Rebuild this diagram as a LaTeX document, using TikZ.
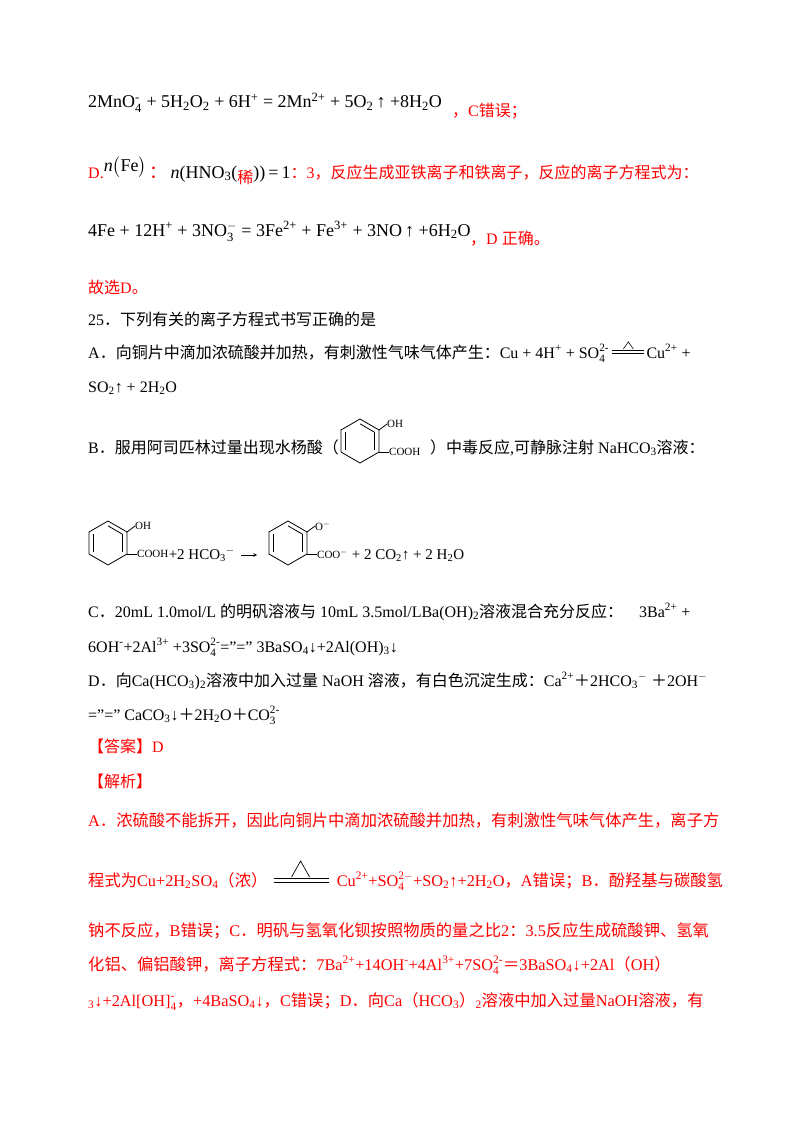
\documentclass[tikz,border=0pt]{standalone}
\usepackage{amsmath}
\usepackage{fontspec}
\setmainfont{Liberation Serif}
\newfontfamily\zhf{Noto Sans CJK SC}
\newfontfamily\zhr{Noto Sans CJK SC}
\newcommand\zh[1]{{\zhf #1}}
\newcommand\zr[1]{{\zhr #1}}
\newcommand\sbp[2]{$\null_{\text{#1}}^{\text{#2}}$}
\newcommand\sd[1]{\textsubscript{#1}}
\newcommand\su[1]{\textsuperscript{#1}}
\tikzset{
  blk/.style={anchor=base west,inner sep=0pt,font=\fontsize{16}{16}\selectfont},
  rdt/.style={blk,text=red},
  rdb/.style={anchor=base west,inner sep=0pt,text=red,font=\fontsize{16.3}{18}\selectfont},
  eqn/.style={anchor=base west,inner sep=0pt,font=\fontsize{18}{18}\selectfont},
  bond/.style={line width=0.8pt}
}
\newcommand\ring[3]{% center x, y, r
  \draw[bond] (#1,#2)+(90:#3) -- +(30:#3) -- +(-30:#3) -- +(-90:#3) -- +(-150:#3) -- +(150:#3) -- cycle;
  \draw[bond] (#1,#2)+(150:0.78*#3) -- +(-150:0.78*#3);
  \draw[bond] (#1,#2)+(30:0.78*#3) -- +(-30:0.78*#3);
  \draw[bond] (#1,#2)+(-90:0.78*#3) -- +(-30:0.78*#3);
}
\begin{document}
\begin{tikzpicture}[x=1pt,y=-1pt]
\useasboundingbox[fill=white] (0,0) rectangle (800,1129);
% line 1
\node[eqn] (e1) at (88,108) {2MnO\sbp{4}{-} + 5H\sd{2}O\sd{2} + 6H\su{+} = 2Mn\su{2+} + 5O\sd{2}\,↑ +8H\sd{2}O};
\node[rdt] (e1r) at (452,117) {\zh{，}C\zh{错误；}};
% line 2
\node[eqn] (d1) at (88,178) {{\color{red}\fontsize{16}{16}\selectfont D.}\raisebox{7pt}{\textit{n}\big(Fe\big)}\,{\color{red}\zh{：}}\,\textit{n}(HNO\sd{3}(\raisebox{-5pt}{\color{red}\fontsize{16}{16}\selectfont\zh{稀}}))\,=\,1{\color{red}\fontsize{16}{16}\selectfont\zh{：}3\zh{，反应生成亚铁离子和铁离子，反应的离子方程式为：}}};
% line 3
\node[eqn] (e3) at (88,236) {4Fe + 12H\su{+} + 3NO\sbp{3}{$-$} = 3Fe\su{2+} + Fe\su{3+} + 3NO\,↑ +6H\sd{2}O};
\node[rdt] (e3r) at (470,244) {\zh{，}D \zh{正确。}};
\node[rdt] (gx) at (88,293) {\zh{故选}D\zh{。}};
\node[blk] (q25) at (88,325) {25\zh{．下列有关的离子方程式书写正确的是}};
\node[blk] (qa) at (88,358) {A\zh{．向铜片中滴加浓硫酸并加热，有刺激性气味气体产生：}Cu + 4H\su{+} + SO\sbp{4}{2-}};
\coordinate (qas) at ([xshift=3pt]qa.base east);
\draw[line width=0.8pt] ([yshift=5pt]qas) -- ++(32,0) ([yshift=8pt]qas) -- ++(32,0);
\draw[line width=0.6pt] ([xshift=11pt,yshift=9pt]qas) -- ++(5,-7) -- ++(5,7);
\node[blk] (qa2) at ([xshift=34pt]qas) {Cu\su{2+} +};
\node[blk] (qa3) at (88,392) {SO\sd{2}↑ + 2H\sd{2}O};
% B line
\node[blk] (qb) at (88,453) {B\zh{．服用阿司匹林过量出现水杨酸（}};
\ring{360}{441}{22}
\coordinate (b1) at (379,430);
\coordinate (b2) at (379,452);
\draw[bond] (b1) -- ++(8,-6) coordinate (b1e);
\draw[bond] (b2) -- ++(10,0) coordinate (b2e);
\node[anchor=west,inner sep=0pt,font=\fontsize{11}{11}\selectfont] (oh1) at (b1e) {OH};
\node[anchor=west,inner sep=0pt,font=\fontsize{11}{11}\selectfont] (co1) at (b2e) {COOH};
\node[blk] (qb2) at (430,453) {\zh{）中毒反应}{,}\zh{可静脉注射} NaHCO\sd{3}\zh{溶液：}};
% structure equation
\ring{108}{543}{22}
\draw[bond] (127,532) -- ++(8,-6) coordinate (s1);
\draw[bond] (127,554) -- ++(10,0) coordinate (s2);
\node[anchor=west,inner sep=0pt,font=\fontsize{11}{11}\selectfont] (oh2) at (s1) {OH};
\node[anchor=west,inner sep=0pt,font=\fontsize{11}{11}\selectfont] (co2) at (s2) {COOH};
\node[blk,font=\fontsize{15}{15}\selectfont] (pl) at ([yshift=-5pt]co2.east) {+2 HCO\sd{3}\su{$-$}};
\coordinate (ar1) at ([xshift=6pt,yshift=4pt]pl.base east);
\draw[-stealth,line width=0.7pt] (ar1) -- ++(16,0) coordinate (ar2);
\ring{288}{543}{22}
\draw[bond] (307,532) -- ++(8,-6) coordinate (s3);
\draw[bond] (307,554) -- ++(10,0) coordinate (s4);
\node[anchor=west,inner sep=0pt,font=\fontsize{11}{11}\selectfont] (o3) at (s3) {O\su{$-$}};
\node[anchor=west,inner sep=0pt,font=\fontsize{11}{11}\selectfont] (co3) at (s4) {COO\su{$-$}};
\node[blk,font=\fontsize{15}{15}\selectfont] (pl2) at ([xshift=4pt,yshift=-5pt]co3.east) {+ 2 CO\sd{2}↑ + 2 H\sd{2}O};
% C
\node[blk] (qc) at (88,617) {C\zh{．}20mL 1.0mol/L \zh{的明矾溶液与} 10mL 3.5mol/LBa(OH)\sd{2}\zh{溶液混合充分反应：}\quad 3Ba\su{2+} +};
\node[blk] (qc2) at (88,652) {6OH\su{-}+2Al\su{3+} +3SO\sbp{4}{2-}="=" 3BaSO\sd{4}↓+2Al(OH)\sd{3}↓};
\node[blk] (qd) at (88,686) {D\zh{．向}Ca(HCO\sd{3})\sd{2}\zh{溶液中加入过量} NaOH \zh{溶液，有白色沉淀生成：}Ca\su{2+}\zh{＋}2HCO\sd{3}\su{$-$} \zh{＋}2OH\su{$-$}};
\node[blk] (qd2) at (88,720) {="=" CaCO\sd{3}↓\zh{＋}2H\sd{2}O\zh{＋}CO\sbp{3}{2-}};
\node[rdt] (ans) at (88,752) {\zh{【答案】}D};
\node[rdt] (jx) at (88,787) {\zh{【解析】}};
% analysis
\node[rdb] (r1) at (88,826) {A\zr{．浓硫酸不能拆开，因此向铜片中滴加浓硫酸并加热，有刺激性气味气体产生，离子方}};
\node[rdb] (r2) at (88,886) {\zr{程式为}Cu+2H\sd{2}SO\sd{4}\zr{（浓）}};
\coordinate (r2s) at ([xshift=6pt]r2.base east);
\draw[line width=0.9pt] ([yshift=4pt]r2s) -- ++(55,0) ([yshift=7.5pt]r2s) -- ++(55,0);
\draw[line width=0.7pt] ([xshift=18pt,yshift=9pt]r2s) -- ++(9,-16) -- ++(9,16);
\node[rdb] (r2b) at ([xshift=63pt]r2s) {Cu\su{2+}+SO\sbp{4}{2$-$}+SO\sd{2}↑+2H\sd{2}O\zr{，}A\zr{错误；}B\zr{．酚羟基与碳酸氢}};
\node[rdb] (r3) at (88,936) {\zr{钠不反应，}B\zr{错误；}C\zr{．明矾与氢氧化钡按照物质的量之比}2\zr{：}3.5\zr{反应生成硫酸钾、氢氧}};
\node[rdb] (r4) at (88,970) {\zr{化铝、偏铝酸钾，离子方程式：}7Ba\su{2+}+14OH\su{-}+4Al\su{3+}+7SO\sbp{4}{2-}\zr{＝}3BaSO\sd{4}↓+2Al\zr{（}OH\zr{）}};
\node[rdb] (r5) at (88,1006) {\sd{3}↓+2Al[OH]\sbp{4}{-}\zr{，}+4BaSO\sd{4}↓\zr{，}C\zr{错误；}D\zr{．向}Ca\zr{（}HCO\sd{3}\zr{）}\sd{2}\zr{溶液中加入过量}NaOH\zr{溶液，有}};
\end{tikzpicture}
\end{document}
